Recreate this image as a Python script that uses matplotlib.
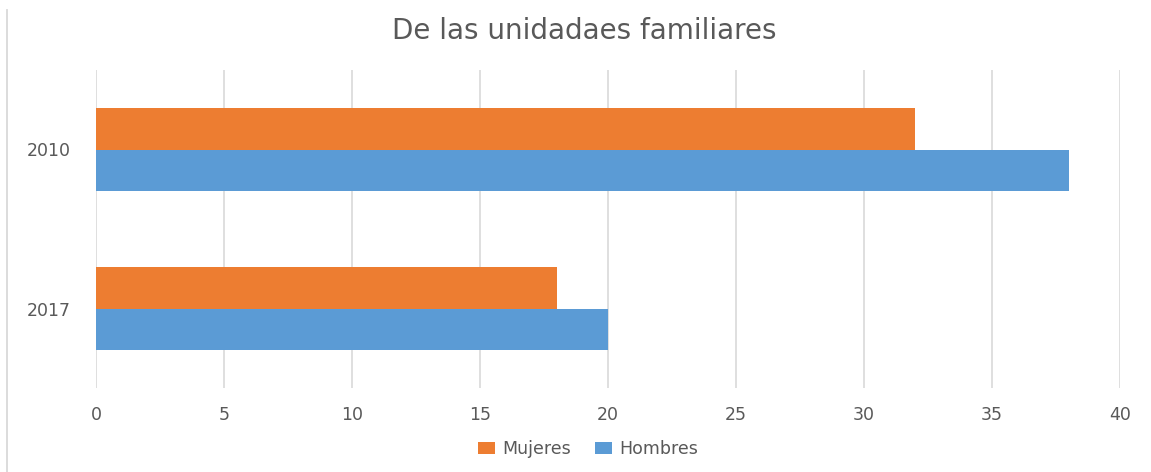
import matplotlib.pyplot as plt
from matplotlib.lines import Line2D
import numpy as np

# data
years = ["2017", "2010"]
mujeres = [18, 32]
hombres = [20, 38]
x_ticks = [0, 5, 10, 15, 20, 25, 30, 35, 40]

ORANGE = "#ED7D31"
BLUE = "#5B9BD5"
GRID = "#D9D9D9"
TEXT = "#595959"

plt.rcParams["font.family"] = ["DejaVu Sans"]

fig = plt.figure(figsize=(11.51, 4.72), dpi=100)
ax = fig.add_axes([96 / 1151, 1 - 388 / 472, 1024 / 1151, 318 / 472])

y = np.arange(len(years))
h = 0.26
ax.barh(y + h / 2, mujeres, height=h, color=ORANGE, label="Mujeres", zorder=3)
ax.barh(y - h / 2, hombres, height=h, color=BLUE, label="Hombres", zorder=3)

ax.set_xlim(0, 40)
ax.set_ylim(-0.5, 1.5)
ax.set_xticks(x_ticks)
ax.set_yticks(y)
ax.set_yticklabels(years)
ax.xaxis.grid(True, color=GRID, linewidth=1.2, zorder=0)
for s in ax.spines.values():
    s.set_visible(False)
ax.tick_params(axis="both", length=0, colors=TEXT, labelsize=12.5)
ax.tick_params(axis="x", pad=13)
ax.tick_params(axis="y", pad=18)

fig.text(584 / 1151, 1 - 31 / 472, "De las unidadaes familiares", ha="center", va="center",
         fontsize=20, color=TEXT)

handles, labels = ax.get_legend_handles_labels()
fig.legend(handles, labels, loc="center", bbox_to_anchor=(588 / 1151, 1 - 449 / 472),
           ncol=2, frameon=False, fontsize=12.5, labelcolor=TEXT,
           handlelength=1.0, handleheight=0.7, handletextpad=0.4, columnspacing=1.4)

# left frame edge of the original screenshot
fig.add_artist(Line2D([7 / 1151, 7 / 1151], [0, 1 - 10 / 472], color=GRID, linewidth=1.3))

fig.savefig("out.png", dpi=100)
